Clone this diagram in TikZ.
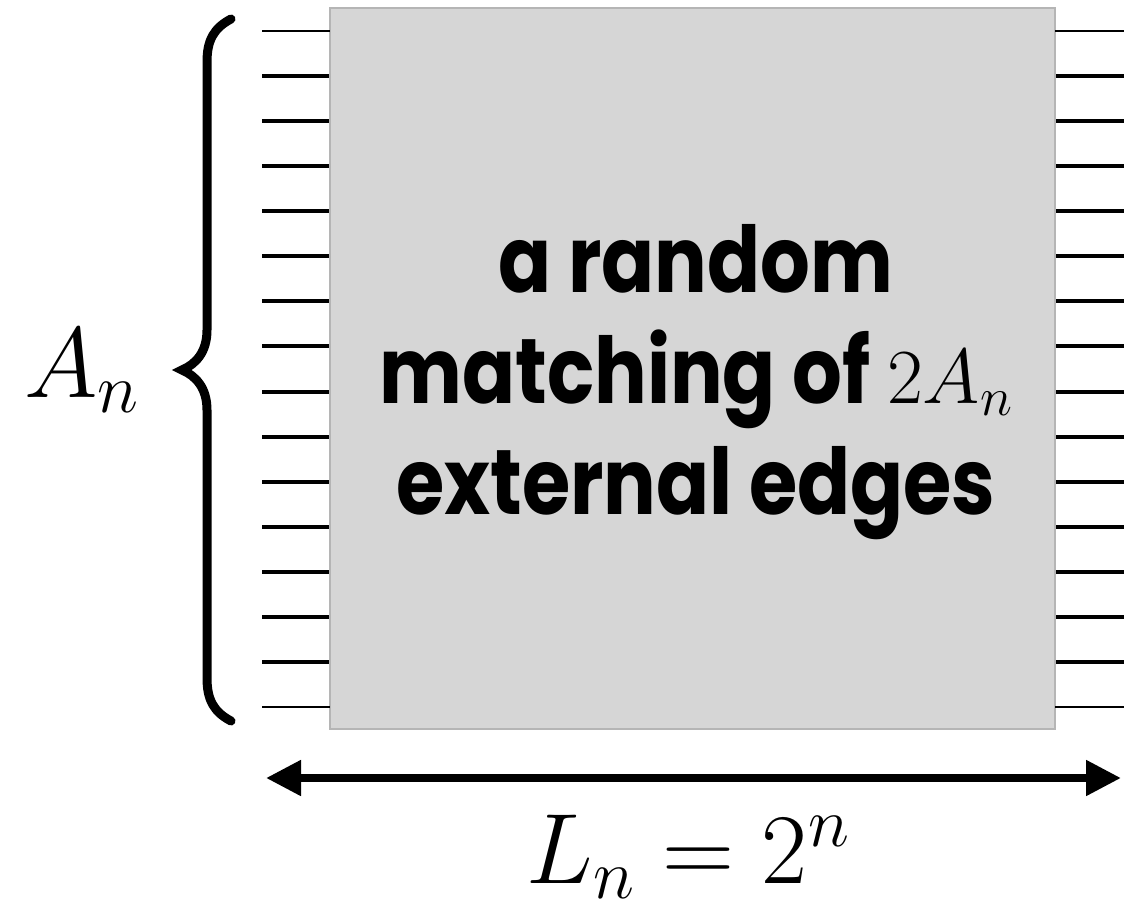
\RequirePackage{fix-cm}
\documentclass[tikz,border=0pt]{standalone}
\usepackage{fontspec}
\usepackage{xcolor}
\usepackage{tikz}
\usetikzlibrary{arrows.meta}
\newfontfamily\handfont[FakeStretch=0.85]{Poppins}
\definecolor{boxgray}{HTML}{D6D6D6}
\definecolor{edgegray}{HTML}{B5B5B5}

\begin{document}
\begin{tikzpicture}[x=1pt, y=-1pt, line width=4pt, black]
    \useasboundingbox (0,0) rectangle (1130,899);
    \node[fill=boxgray, draw=edgegray, line width=2pt, minimum width=725pt,
      minimum height=721pt, inner sep=0pt] (block) at (692.5,368.5) {};
    \foreach \k in {1,...,14} {
      \draw (262,{30.7+45.1*\k}) -- (block.west |- 0,{30.7+45.1*\k});
      \draw (block.east |- 0,{30.7+45.1*\k}) -- (1124,{30.7+45.1*\k});
    }
    \draw[line width=2pt] (262,30.7) -- (330,30.7) (1055,30.7) -- (1124,30.7);
    \draw[line width=2pt] (262,707.2) -- (330,707.2) (1055,707.2) -- (1124,707.2);
    \draw[line width=9pt, line cap=round] (231,19) .. controls (214,28) and (207,40) .. (207,62)
      -- (207,330) .. controls (207,352) and (196,364) .. (182,370)
      .. controls (196,376) and (207,388) .. (207,410)
      -- (207,678) .. controls (207,700) and (214,712) .. (231,721);
    \node[anchor=base west, inner sep=0pt, font=\fontsize{100}{120}\selectfont] (alabel) at (22,397) {$A_n$};
    \node[align=center, inner sep=0pt, font=\handfont\bfseries\fontsize{92}{111}\selectfont] (caption)
      at (696,382) {a random\\matching of {\fontsize{78}{90}\selectfont$2A_n$}\\external edges};
    \coordinate (lend) at (266,778);
    \coordinate (rend) at (1121,778);
    \draw[{Triangle[length=35pt,width=34pt]}-{Triangle[length=35pt,width=34pt]}, line width=8pt] (lend) -- (rend);
    \node[anchor=base, inner sep=0pt, font=\fontsize{100}{120}\selectfont] (llabel) at (688,883) {$L_n = 2^n$};
  \end{tikzpicture}
\end{document}
